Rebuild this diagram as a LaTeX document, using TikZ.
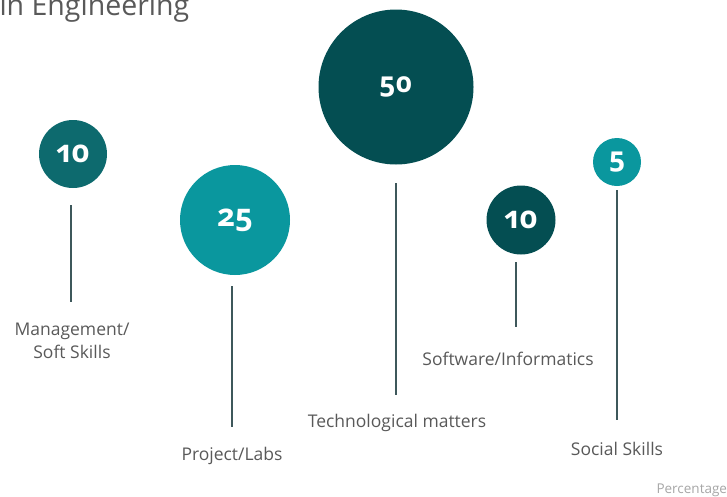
\documentclass[tikz,border=0pt]{standalone}
\usepackage{fontspec}
\setmainfont{Open Sans}[Numbers=OldStyle]
\definecolor{tealdark}{HTML}{044E52}
\definecolor{tealmid}{HTML}{0D6A6E}
\definecolor{teallight}{HTML}{0A979E}
\definecolor{stemgray}{HTML}{3E585B}
\definecolor{labelgray}{HTML}{595959}

\begin{document}
\begin{tikzpicture}[x=1pt,y=-1pt,
  bubble/.style={circle,inner sep=0pt,text=white,font=\bfseries},
  stem/.style={draw=stemgray,line width=1.6pt},
  lbl/.style={text=labelgray,font=\fontsize{17.5}{23}\selectfont,align=center}]
\useasboundingbox (0,0) rectangle (727,496);

\node[anchor=base west,text=labelgray,font=\fontsize{28.5}{30}\selectfont] (title) at (-4,15) {in Engineering};

% bubbles
\node[bubble,fill=tealmid,minimum size=68pt,font=\bfseries\fontsize{31}{31}\selectfont] (ms) at (73,154) {10};
\node[bubble,fill=teallight,minimum size=110pt,font=\bfseries\fontsize{31}{31}\selectfont] (pl) at (235,220) {25};
\node[bubble,fill=tealdark,minimum size=155pt,font=\bfseries\fontsize{28}{28}\selectfont] (tm) at (396,87) {50};
\node[bubble,fill=tealdark,minimum size=69pt,font=\bfseries\fontsize{31}{31}\selectfont] (si) at (521,220) {10};
\node[bubble,fill=teallight,minimum size=48pt,font=\bfseries\fontsize{28}{28}\selectfont] (ss) at (617,162) {5};

% labels
\node[lbl] (ms label) at (72,341) {Management/\\Soft Skills};
\node[lbl] (pl label) at (232,456) {Project/Labs};
\node[lbl] (tm label) at (397,423) {Technological matters};
\node[lbl] (si label) at (508,359) {Software/Informatics};
\node[lbl] (ss label) at (617,449) {Social Skills};

% stems
\coordinate (ms a) at (71,205);  \coordinate (ms b) at (71,302);
\coordinate (pl a) at (232,286); \coordinate (pl b) at (232,427);
\coordinate (tm a) at (396,183); \coordinate (tm b) at (396,395);
\coordinate (si a) at (516,262); \coordinate (si b) at (516,327);
\coordinate (ss a) at (617,190); \coordinate (ss b) at (617,420);
\foreach \n in {ms,pl,tm,si,ss}
  \draw[stem] (\n\space a) -- (\n\space b);

\node[anchor=base west,text=black!35,font=\fontsize{13.5}{14}\selectfont] (unit) at (653,493) {Percentage};
\end{tikzpicture}
\end{document}
